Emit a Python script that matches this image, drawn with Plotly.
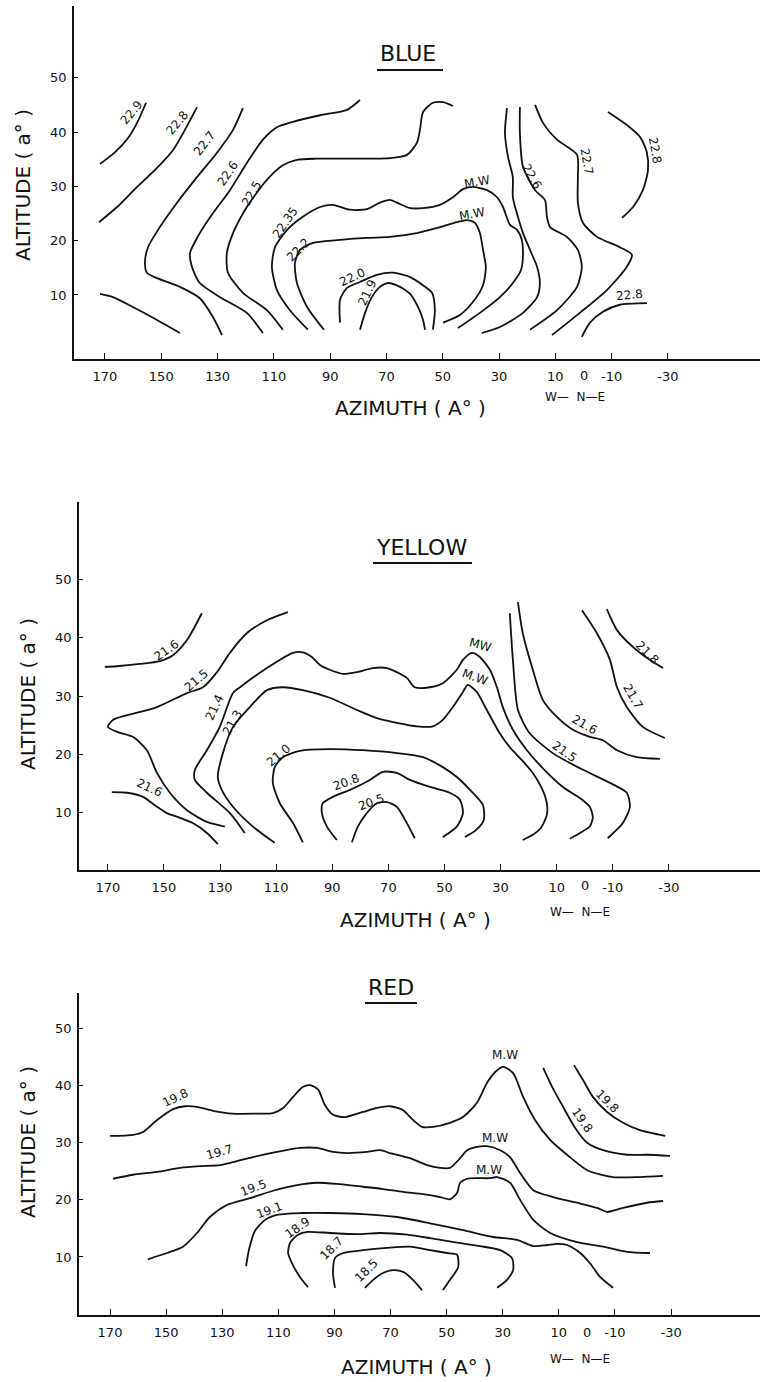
import plotly.graph_objects as go

W, H = 760, 1382

# ---------------- axis ticks ----------------
AZ_TICKS = [170, 150, 130, 110, 90, 70, 50, 30, 10, -10, -30]
AZ_TICK_TEXT = ["170", "150", "130", "110", "90", "70", "50", "30", "10", "-10", "-30"]
NORTH_AZ = 0
NORTH_TEXT = "0"
ALT_TICKS = [10, 20, 30, 40, 50]
ALT_TICK_TEXT = ["10", "20", "30", "40", "50"]
PANEL_TITLES = ["BLUE", "YELLOW", "RED"]
ALT_TITLE = "ALTITUDE ( a\u00b0 )"
AZ_TITLE = "AZIMUTH ( A\u00b0 )"
DIR_TEXT = "W\u2014  N\u2014E"

# ---------------- BLUE panel contours (azimuth deg, altitude deg) ----------------
b229_az = [171.8, 166.4, 161.8, 158.6, 155.4]
b229_alt = [34.1, 36.3, 38.9, 41.7, 45.4]
b228_az = [172.1, 165.7, 158.6, 151.5, 145.8, 141.6, 137.3]
b228_alt = [23.4, 26.2, 29.9, 33.4, 36.7, 40.4, 44.6]
b228low_az = [171.8, 167.2, 160.1, 152.9, 143.4]
b228low_alt = [10.2, 9.6, 7.8, 5.8, 3.0]
b227_az = [128.4, 131.6, 136.3, 143.4, 151.5, 155.1, 155.8, 154.7, 150.5, 144.4, 137.3, 130.2, 124.5, 121.0]
b227_alt = [2.6, 5.9, 9.4, 11.5, 13.1, 14.1, 15.9, 18.8, 22.5, 27.0, 31.7, 36.2, 40.4, 44.4]
b226_az = [113.9, 119.6, 129.1, 136.3, 139.1, 139.8, 136.3, 131.6, 125.6, 119.6, 113.9, 108.9, 103.2, 93.6, 84.0, 79.4]
b226_alt = [3.0, 6.7, 9.6, 12.2, 15.2, 17.7, 21.4, 25.1, 29.3, 34.3, 38.6, 40.9, 41.9, 43.1, 44.1, 45.9]
b225_az = [106.8, 112.5, 121.0, 126.3, 126.7, 124.5, 119.6, 112.5, 106.8, 101.8, 94.7, 83.0, 68.8, 62.7, 59.2, 58.1, 57.0, 53.5, 49.9, 46.4]
b225_alt = [3.6, 7.2, 10.4, 14.1, 17.7, 21.4, 26.2, 31.2, 33.9, 34.9, 35.1, 35.1, 35.2, 35.8, 38.0, 40.4, 43.7, 45.4, 45.5, 44.8]
b2235_az = [97.9, 104.3, 108.9, 110.7, 109.6, 105.3, 99.7, 93.6, 89.0, 83.0, 76.9, 72.3, 68.8, 66.3, 61.6, 57.0,
            51.0, 46.4, 42.8, 39.3, 34.3, 30.7, 28.6, 26.1, 23.6, 21.9, 21.5, 22.2, 25.1, 29.7, 36.8, 44.6]
b2235_alt = [3.6, 7.2, 10.9, 15.2, 18.8, 22.0, 24.4, 26.2, 26.6, 25.7, 25.8, 27.0, 27.5, 27.0, 26.0, 26.0,
             26.6, 28.0, 29.5, 29.9, 29.3, 28.0, 26.2, 22.9, 22.0, 20.1, 17.4, 14.6, 12.2, 9.6, 6.7, 3.9]
b222_az = [92.2, 98.2, 101.8, 102.5, 100.7, 96.1, 87.6, 76.9, 68.8, 59.2, 51.0, 45.0, 41.4, 38.6, 36.8, 35.7, 34.7, 35.7, 39.3, 43.9, 49.9]
b222_alt = [3.6, 7.8, 12.2, 15.9, 18.3, 19.6, 20.1, 20.5, 20.7, 21.4, 22.5, 23.4, 23.8, 23.3, 21.4, 18.3, 15.2, 11.8, 8.7, 6.3, 4.9]
b220_az = [86.5, 86.5, 84.0, 79.4, 73.4, 67.7, 61.6, 57.0, 53.8, 52.8, 53.5]
b220_alt = [4.9, 9.1, 11.3, 12.4, 13.7, 14.1, 13.3, 11.8, 10.4, 7.2, 3.6]
b219_az = [79.4, 77.6, 75.2, 72.3, 69.5, 65.2, 61.6, 58.8, 57.0, 56.3]
b219_alt = [3.6, 6.7, 9.6, 11.5, 12.2, 11.5, 10.2, 7.8, 5.4, 3.6]
b225r_az = [27.2, 27.9, 26.8, 25.1, 25.1, 23.3, 21.5, 19.0, 16.5, 15.5, 16.5, 21.5, 29.7, 36.1]
b225r_alt = [44.4, 39.8, 35.4, 31.7, 28.0, 24.4, 21.4, 18.3, 15.2, 12.2, 9.6, 6.7, 4.1, 3.0]
b226r_az = [22.6, 22.6, 21.5, 17.2, 13.7, 13.0, 11.9, 5.9, 2.0, 0.6, 2.3, 9.4, 19.0]
b226r_alt = [44.6, 39.8, 33.6, 29.3, 27.5, 24.4, 22.5, 20.7, 18.3, 15.2, 11.5, 7.2, 3.6]
b227r_az = [17.2, 14.4, 9.4, 2.3, 2.0, 2.0, 0.2, -4.8, -12.9, -17.2, -15.4, -8.3, 1.3, 11.2]
b227r_alt = [45.0, 41.7, 38.6, 35.8, 31.7, 27.0, 23.3, 20.7, 18.8, 17.4, 15.2, 10.9, 6.7, 2.6]
b228r_az = [-8.7, -15.4, -20.1, -22.5, -22.9, -21.1, -17.6, -13.7]
b228r_alt = [43.7, 41.3, 39.1, 36.3, 33.0, 29.3, 26.2, 24.2]
b228br_az = [0.6, -2.3, -6.9, -12.9, -22.5]
b228br_alt = [2.3, 4.9, 6.9, 8.2, 8.5]

blue_lbl_text = ["22.9", "22.8", "22.7", "22.6", "22.5", "22.35", "22.2", "22.0", "21.9", "M.W", "M.W", "22.6", "22.7", "22.8", "22.8"]
blue_lbl_az = [160.4, 144.4, 134.5, 126.3, 117.8, 106.1, 101.4, 81.9, 76.9, 37.9, 39.6, 18.3, -1.2, -25.4, -16.5]
blue_lbl_alt = [43.7, 41.7, 38.0, 32.5, 28.8, 23.3, 18.3, 13.3, 10.4, 30.8, 24.9, 31.7, 34.5, 36.7, 10.0]
blue_lbl_rot = [-50, -50, -52, -55, -60, -55, -45, -25, -65, -10, -10, 60, 80, 80, -5]

# ---------------- YELLOW panel contours ----------------
y216a_az = [171.1, 166.8, 158.6, 151.5, 146.8, 141.8, 136.5]
y216a_alt = [35.0, 35.1, 35.5, 36.0, 37.0, 39.6, 44.2]
y215_az = [105.8, 113.3, 120.4, 126.5, 131.1, 136.1, 141.8, 152.5, 163.2, 168.2, 170.0, 166.4, 161.1, 156.1, 152.5, 147.9, 141.8, 134.7, 128.3]
y215_alt = [44.4, 43.0, 40.8, 37.4, 34.1, 31.5, 30.5, 28.1, 26.7, 25.9, 24.7, 23.8, 23.0, 20.7, 16.8, 13.4, 10.4, 8.4, 7.6]
y216b_az = [168.6, 163.2, 157.5, 152.5, 149.0, 144.3, 139.7, 134.7, 130.8]
y216b_alt = [13.5, 13.4, 12.7, 11.0, 9.9, 9.1, 8.2, 6.5, 4.6]
y214_az = [121.2, 126.5, 134.7, 139.0, 139.0, 134.7, 130.1, 125.4, 122.9, 113.3, 104.0, 100.5, 97.3, 94.4, 90.9, 86.2,
           81.2, 75.5, 70.5, 67.0, 63.4, 60.6, 55.2, 50.6, 45.6, 43.4, 40.2, 37.4, 33.8, 31.3, 29.2, 25.6, 20.6,
           14.9, 7.8, 1.7, -1.8, -2.9, -1.8, 1.7, 5.3]
y214_alt = [6.5, 9.9, 13.4, 15.6, 17.3, 20.7, 24.7, 30.5, 31.5, 34.8, 37.4, 37.5, 36.7, 35.3, 34.5, 33.8,
            34.1, 34.8, 34.8, 34.1, 33.1, 31.5, 31.5, 32.2, 34.5, 36.2, 37.4, 36.7, 34.5, 31.5, 28.1, 24.2, 20.7,
            17.6, 14.4, 12.5, 11.0, 9.2, 7.6, 6.5, 5.5]
y213_az = [110.5, 118.3, 125.4, 129.4, 130.8, 129.0, 125.4, 119.4, 113.3, 107.6, 100.5, 90.9, 81.2, 74.1, 67.0, 59.8,
           54.1, 50.6, 47.0, 43.4, 41.7, 38.5, 34.9, 30.3, 26.7, 22.4, 18.5, 15.3, 13.5, 13.5, 15.6, 18.5, 22.1]
y213_alt = [4.8, 7.6, 11.0, 13.9, 16.1, 20.2, 24.7, 28.1, 31.0, 31.5, 31.0, 29.7, 27.6, 26.2, 25.4, 24.8,
            24.8, 25.9, 28.1, 30.7, 31.9, 30.7, 27.6, 23.6, 21.2, 19.0, 16.8, 14.2, 11.6, 9.6, 7.4, 6.2, 5.3]
y210_az = [100.5, 104.0, 108.7, 111.2, 110.5, 107.6, 101.6, 90.9, 79.1, 67.0, 57.7, 50.6, 45.6, 40.9, 36.3, 36.0, 38.8, 42.7]
y210_alt = [4.9, 8.2, 11.6, 15.1, 17.8, 19.5, 20.6, 20.9, 20.7, 20.2, 19.5, 17.8, 16.1, 13.9, 11.3, 8.7, 7.0, 5.8]
y208_az = [88.4, 91.9, 93.7, 93.4, 89.8, 83.7, 76.6, 72.0, 67.0, 62.3, 55.2, 48.1, 44.5, 43.4, 45.6, 50.6]
y208_alt = [5.3, 7.6, 9.9, 11.6, 12.7, 13.9, 15.6, 17.0, 16.8, 15.6, 14.4, 13.4, 12.2, 9.9, 7.6, 5.8]
y205_az = [83.0, 80.9, 77.7, 74.1, 70.5, 67.0, 63.4, 60.6]
y205_alt = [4.9, 7.6, 9.9, 11.6, 11.8, 11.0, 8.2, 5.6]
y215r_az = [26.7, 25.6, 23.8, 19.6, 11.4, 1.7, -9.0, -15.0, -16.1, -13.6, -8.2]
y215r_alt = [44.2, 36.2, 27.6, 23.6, 20.2, 17.6, 15.1, 13.4, 11.0, 8.2, 5.6]
y216r_az = [23.8, 22.1, 18.5, 14.9, 9.9, 4.2, -1.8, -6.5, -11.5, -18.6, -26.8]
y216r_alt = [46.1, 40.8, 34.5, 29.3, 26.4, 24.2, 23.0, 22.4, 20.7, 19.5, 19.2]
y217_az = [1.0, -4.3, -9.0, -11.5, -15.0, -20.7, -28.6]
y217_alt = [44.7, 40.8, 36.2, 31.5, 28.1, 24.7, 22.8]
y218_az = [-7.9, -11.5, -17.2, -23.2, -27.9]
y218_alt = [44.9, 41.3, 38.4, 36.2, 34.8]

yel_lbl_text = ["21.6", "21.5", "21.4", "21.3", "21.0", "20.8", "20.5", "21.6", "MW", "M.W", "21.6", "21.5", "21.7", "21.8"]
yel_lbl_az = [149.0, 138.3, 131.9, 125.4, 109.0, 84.8, 75.9, 155.0, 37.4, 39.2, -0.1, 7.1, -17.2, -22.5]
yel_lbl_alt = [37.9, 32.7, 28.1, 25.5, 19.9, 15.2, 11.8, 14.2, 38.7, 33.3, 25.0, 20.4, 29.8, 37.4]
yel_lbl_rot = [-35, -40, -65, -60, -40, -20, -20, 25, 15, 20, 30, 35, 60, 45]

# ---------------- RED panel contours ----------------
r198_az = [170.0, 161.8, 158.2, 153.2, 147.5, 143.3, 139.0, 133.3, 126.2, 117.6, 111.9, 108.3, 104.8, 101.2, 98.7, 95.8,
           93.4, 90.5, 86.2, 79.8, 74.8, 70.2, 65.5, 62.0, 58.8, 54.8, 48.8, 44.2, 39.2, 35.6, 32.7, 29.9, 26.3,
           22.7, 18.5, 13.1, 7.1, -0.1, -9.3, -18.9, -27.1]
r198_alt = [31.2, 31.4, 31.9, 34.0, 35.9, 36.4, 36.3, 35.6, 35.1, 35.1, 35.2, 36.1, 38.0, 39.8, 40.1, 39.3,
            36.6, 34.9, 34.5, 35.4, 36.1, 36.4, 35.7, 34.0, 32.8, 32.8, 33.5, 34.5, 37.0, 40.5, 42.4, 43.3, 42.2,
            38.0, 34.0, 30.5, 27.9, 25.2, 24.0, 24.0, 24.2]
r197_az = [168.9, 161.8, 153.2, 145.0, 137.9, 130.8, 126.2, 119.0, 110.5, 102.3, 96.2, 90.5, 85.5, 78.4, 73.7, 70.2,
           63.1, 57.0, 52.4, 48.8, 45.2, 42.7, 39.2, 35.6, 30.9, 27.4, 23.8, 19.1, 12.1, 3.5, -3.6, -7.2, -12.9, -21.4, -27.1]
r197_alt = [23.7, 24.4, 24.9, 25.6, 25.9, 26.1, 26.6, 27.5, 28.4, 29.1, 29.1, 28.4, 28.2, 28.4, 28.7, 28.2,
            27.3, 26.1, 25.6, 25.6, 27.3, 28.7, 29.3, 29.4, 28.7, 27.5, 24.7, 21.7, 20.5, 19.5, 18.6, 17.9, 18.6, 19.5, 19.8]
r195_az = [156.5, 149.7, 144.0, 139.0, 134.4, 128.3, 120.1, 111.9, 103.3, 96.2, 89.1, 79.8, 72.7, 65.5, 58.4, 52.4,
           48.8, 46.3, 45.2, 42.7, 39.2, 34.5, 32.0, 27.4, 23.8, 19.1, 13.1, 3.5, -5.8, -14.3, -22.5]
r195_alt = [9.6, 10.7, 11.8, 14.2, 17.0, 19.1, 20.3, 21.6, 22.6, 23.0, 22.8, 22.3, 21.9, 21.4, 21.0, 20.5,
            20.1, 21.2, 23.0, 23.7, 23.8, 23.8, 24.0, 23.0, 20.0, 16.5, 14.2, 12.6, 11.8, 10.9, 10.7]
r191_az = [121.5, 120.4, 118.3, 114.7, 110.1, 101.6, 91.2, 79.8, 67.7, 55.9, 44.2, 33.5, 24.9, 19.1, 14.2, 10.6,
           7.1, 2.4, -1.1, -4.7, -9.3]
r191_alt = [8.4, 11.4, 14.6, 16.5, 17.4, 17.7, 17.7, 17.5, 17.0, 15.9, 14.7, 13.5, 13.0, 11.9, 12.1, 12.3,
            12.1, 10.7, 8.9, 6.5, 4.6]
r189_az = [99.4, 102.3, 105.1, 106.5, 105.8, 103.0, 99.4, 91.6, 81.9, 73.7, 64.1, 55.9, 46.3, 38.1, 30.9, 26.7, 26.3, 28.5, 32.0]
r189_alt = [4.7, 6.5, 8.9, 10.7, 12.5, 13.9, 14.4, 14.2, 14.0, 14.2, 13.9, 13.3, 12.5, 11.9, 11.2, 9.8, 7.7, 6.0, 4.6]
r187_az = [89.8, 90.5, 89.8, 86.9, 79.8, 71.2, 63.1, 55.9, 49.9, 46.3, 45.9, 48.8, 51.3]
r187_alt = [4.6, 7.2, 9.8, 10.7, 11.2, 11.6, 11.8, 11.2, 10.7, 10.4, 8.2, 6.0, 4.2]
r185_az = [79.1, 76.2, 72.7, 69.1, 65.5, 62.0, 58.8]
r185_alt = [4.6, 6.0, 7.2, 7.7, 7.4, 6.0, 4.2]
r198a_az = [15.6, 12.4, 8.5, 4.2, -0.1, -5.8, -14.3, -21.4, -29.6]
r198a_alt = [43.1, 39.8, 36.3, 32.6, 30.0, 28.7, 27.9, 27.9, 27.7]
r198b_az = [4.6, 1.4, -2.2, -7.2, -12.9, -18.9, -27.9]
r198b_alt = [43.6, 41.0, 38.0, 35.4, 33.5, 32.2, 31.2]

red_lbl_text = ["19.8", "19.7", "19.5", "19.1", "18.9", "18.7", "18.5", "M.W", "M.W", "M.W", "19.8", "19.8"]
red_lbl_az = [146.8, 130.8, 119.0, 113.0, 103.3, 90.9, 78.4, 29.2, 32.7, 34.9, -7.5, 1.7]
red_lbl_alt = [37.9, 28.4, 22.1, 18.2, 15.1, 11.6, 7.7, 45.4, 30.8, 25.2, 37.2, 34.0]
red_lbl_rot = [-25, -15, -20, -20, -35, -45, -45, 0, 0, 0, 45, 55]

BLUE_LINES = [(b229_az, b229_alt), (b228_az, b228_alt), (b228low_az, b228low_alt), (b227_az, b227_alt),
              (b226_az, b226_alt), (b225_az, b225_alt), (b2235_az, b2235_alt), (b222_az, b222_alt),
              (b220_az, b220_alt), (b219_az, b219_alt), (b225r_az, b225r_alt), (b226r_az, b226r_alt),
              (b227r_az, b227r_alt), (b228r_az, b228r_alt), (b228br_az, b228br_alt)]
YELLOW_LINES = [(y216a_az, y216a_alt), (y215_az, y215_alt), (y216b_az, y216b_alt), (y214_az, y214_alt),
                (y213_az, y213_alt), (y210_az, y210_alt), (y208_az, y208_alt), (y205_az, y205_alt),
                (y215r_az, y215r_alt), (y216r_az, y216r_alt), (y217_az, y217_alt), (y218_az, y218_alt)]
RED_LINES = [(r198_az, r198_alt), (r197_az, r197_alt), (r195_az, r195_alt), (r191_az, r191_alt),
             (r189_az, r189_alt), (r187_az, r187_alt), (r185_az, r185_alt), (r198a_az, r198a_alt),
             (r198b_az, r198b_alt)]

# ---------------- layout helpers (pixel positions) ----------------
def py(Y):
    return 1 - Y / H


def px(X):
    return X / W


FONT = "DejaVu Sans"
INK = "#111111"

panels = [
    dict(lines=BLUE_LINES, lbl=(blue_lbl_text, blue_lbl_az, blue_lbl_alt, blue_lbl_rot),
         xdom=(74, 760), ydom=(359, 6), xr=[181.0, -62.7], yr=[-1.79, 63.22],
         title=(408, 54), ul=(377, 443, 70), alt=(23, 185), az=(410, 408), wne=(575, 397), zero=375),
    dict(lines=YELLOW_LINES, lbl=(yel_lbl_text, yel_lbl_az, yel_lbl_alt, yel_lbl_rot),
         xdom=(79, 760), ydom=(870, 502), xr=[180.3, -62.5], yr=[0.15, 63.28],
         title=(421, 548), ul=(373, 472, 563), alt=(28, 694), az=(415, 920), wne=(580, 912), zero=885),
    dict(lines=RED_LINES, lbl=(red_lbl_text, red_lbl_az, red_lbl_alt, red_lbl_rot),
         xdom=(79, 760), ydom=(1315, 993), xr=[181.05, -61.7], yr=[-0.16, 56.23],
         title=(391, 987), ul=(365, 417, 1003), alt=(28, 1142), az=(416, 1367), wne=(580, 1359), zero=1332),
]

fig = go.Figure()
annotations = []
shapes = []
layout_axes = {}

for i, p in enumerate(panels):
    sfx = "" if i == 0 else str(i + 1)
    xa, ya = "x" + sfx, "y" + sfx
    for az, alt in p["lines"]:
        fig.add_trace(go.Scatter(
            x=az, y=alt, mode="lines", xaxis=xa, yaxis=ya,
            line=dict(color=INK, width=1.8, shape="spline", smoothing=0.7),
            hoverinfo="skip", showlegend=False, cliponaxis=False))
    texts, lazs, lalts, lrots = p["lbl"]
    for t, a, h, r in zip(texts, lazs, lalts, lrots):
        annotations.append(dict(x=a, y=h, xref=xa, yref=ya, text=t, textangle=r, showarrow=False,
                                xanchor="center", yanchor="middle",
                                font=dict(family=FONT, size=12, color=INK)))
    layout_axes["xaxis" + sfx] = dict(
        domain=[px(p["xdom"][0]), px(p["xdom"][1])], range=p["xr"], anchor=ya,
        tickmode="array", tickvals=AZ_TICKS, ticktext=AZ_TICK_TEXT,
        ticks="inside", ticklen=6, tickwidth=1.4, tickcolor=INK,
        showline=True, linecolor=INK, linewidth=1.8, showgrid=False, zeroline=False,
        tickfont=dict(family=FONT, size=13, color=INK), ticklabelstandoff=4)
    layout_axes["yaxis" + sfx] = dict(
        domain=[py(p["ydom"][0]), py(p["ydom"][1])], range=p["yr"], anchor=xa,
        tickmode="array", tickvals=ALT_TICKS, ticktext=ALT_TICK_TEXT,
        ticks="inside", ticklen=4, tickwidth=1.4, tickcolor=INK,
        showline=True, linecolor=INK, linewidth=1.8, showgrid=False, zeroline=False,
        tickfont=dict(family=FONT, size=13, color=INK), ticklabelstandoff=3)
    # "0" (north) label without tick mark
    annotations.append(dict(x=NORTH_AZ, y=py(p["zero"]), xref=xa, yref="paper", text=NORTH_TEXT,
                            showarrow=False, xanchor="center", yanchor="middle",
                            font=dict(family=FONT, size=13, color=INK)))
    # panel title with underline
    annotations.append(dict(x=px(p["title"][0]), y=py(p["title"][1]), xref="paper", yref="paper",
                            text=PANEL_TITLES[i], showarrow=False, xanchor="center", yanchor="middle",
                            font=dict(family=FONT, size=22, color=INK)))
    shapes.append(dict(type="line", xref="paper", yref="paper",
                       x0=px(p["ul"][0]), x1=px(p["ul"][1]), y0=py(p["ul"][2]), y1=py(p["ul"][2]),
                       line=dict(color=INK, width=1.8)))
    # axis titles
    annotations.append(dict(x=px(p["alt"][0]), y=py(p["alt"][1]), xref="paper", yref="paper",
                            text=ALT_TITLE, textangle=-90, showarrow=False,
                            xanchor="center", yanchor="middle",
                            font=dict(family=FONT, size=20, color=INK)))
    annotations.append(dict(x=px(p["az"][0]), y=py(p["az"][1]), xref="paper", yref="paper",
                            text=AZ_TITLE, showarrow=False, xanchor="center", yanchor="middle",
                            font=dict(family=FONT, size=20, color=INK)))
    annotations.append(dict(x=px(p["wne"][0]), y=py(p["wne"][1]), xref="paper", yref="paper",
                            text=DIR_TEXT, showarrow=False, xanchor="center", yanchor="middle",
                            font=dict(family=FONT, size=12, color=INK)))

fig.update_layout(
    width=W, height=H, margin=dict(l=0, r=0, t=0, b=0),
    paper_bgcolor="white", plot_bgcolor="white",
    annotations=annotations, shapes=shapes, showlegend=False,
    **layout_axes)

fig.write_html("out.html", config={"displayModeBar": False},
               post_script="document.body.style.margin='0';document.body.style.overflow='hidden';")
